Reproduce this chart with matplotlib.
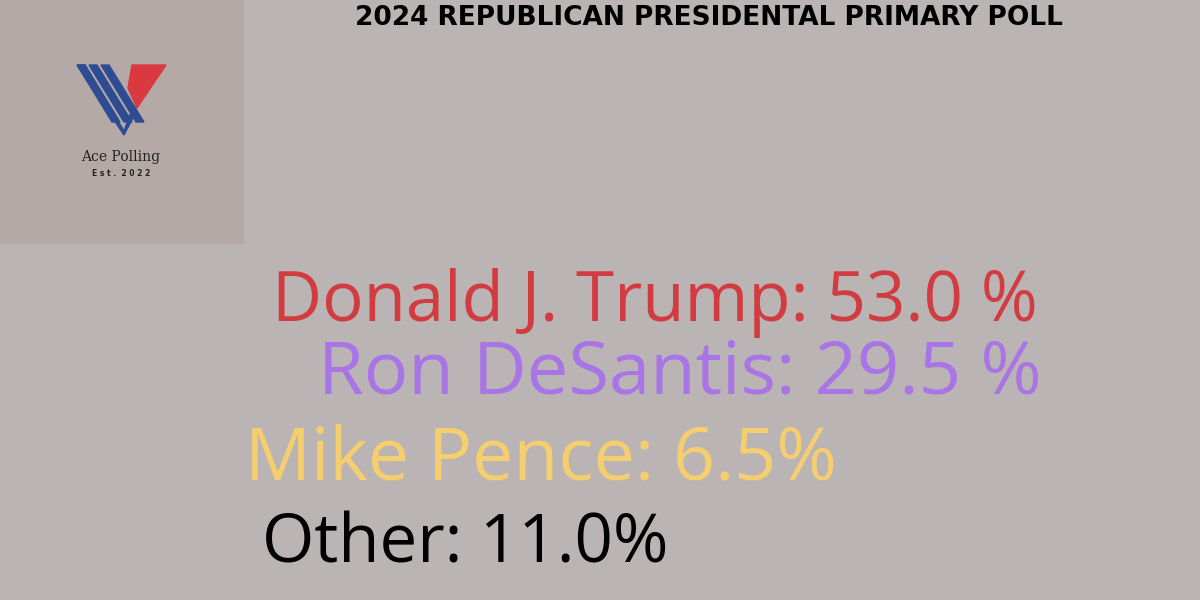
import matplotlib
matplotlib.use('Agg')
import matplotlib.pyplot as plt
from matplotlib.patches import Polygon, Rectangle

title = '2024 REPUBLICAN PRESIDENTAL PRIMARY POLL'
names = ['Donald J. Trump', 'Ron DeSantis', 'Mike Pence', 'Other']
values = ['53.0 %', '29.5 %', '6.5%', '11.0%']
colors = ['#D23B3F', '#A974E6', '#F4CE6F', '#000000']
left_x = [272, 318, 245, 262]
mid_y = [303, 375, 460, 545]
sizes = [49.7, 53.4, 52.8, 48.4]

fig = plt.figure(figsize=(12, 6), dpi=100)
fig.patch.set_facecolor('#BAB4B4')
ax = fig.add_axes([0, 0, 1, 1])
ax.set_xlim(0, 1200)
ax.set_ylim(600, 0)
ax.axis('off')

# logo box
ax.add_patch(Rectangle((0, 0), 243, 243, color='#B5A9A7', zorder=0))
blue = '#2E4C93'
for x0 in (77, 89, 101):
    ax.add_patch(Polygon([(x0, 65), (x0 + 8, 65), (x0 + 8 + 35, 122), (x0 + 35, 122)], color=blue))
ax.add_patch(Polygon([(77, 65), (85, 65), (124, 131), (131, 112), (136, 112), (124, 135)], color=blue))
ax.add_patch(Polygon([(132, 65), (166, 65), (137, 108), (128, 88)], color='#D9393F'))
ax.text(121, 157, 'Ace Polling', ha='center', va='center', fontsize=10,
        family='DejaVu Serif', color='#222222')
ax.text(121, 174, 'E s t .  2 0 2 2', ha='center', va='center', fontsize=5.5,
        fontweight='bold', color='#222222')

ax.text(709, 18, title, ha='center', va='center', fontsize=19,
        fontweight='heavy', family='DejaVu Sans', color='black')

for n, v, c, x, y, s in zip(names, values, colors, left_x, mid_y, sizes):
    ax.text(x, y, f'{n}: {v}', ha='left', va='center', fontsize=s,
            family='Open Sans', color=c)

fig.savefig('out.png', dpi=100, facecolor=fig.get_facecolor())
